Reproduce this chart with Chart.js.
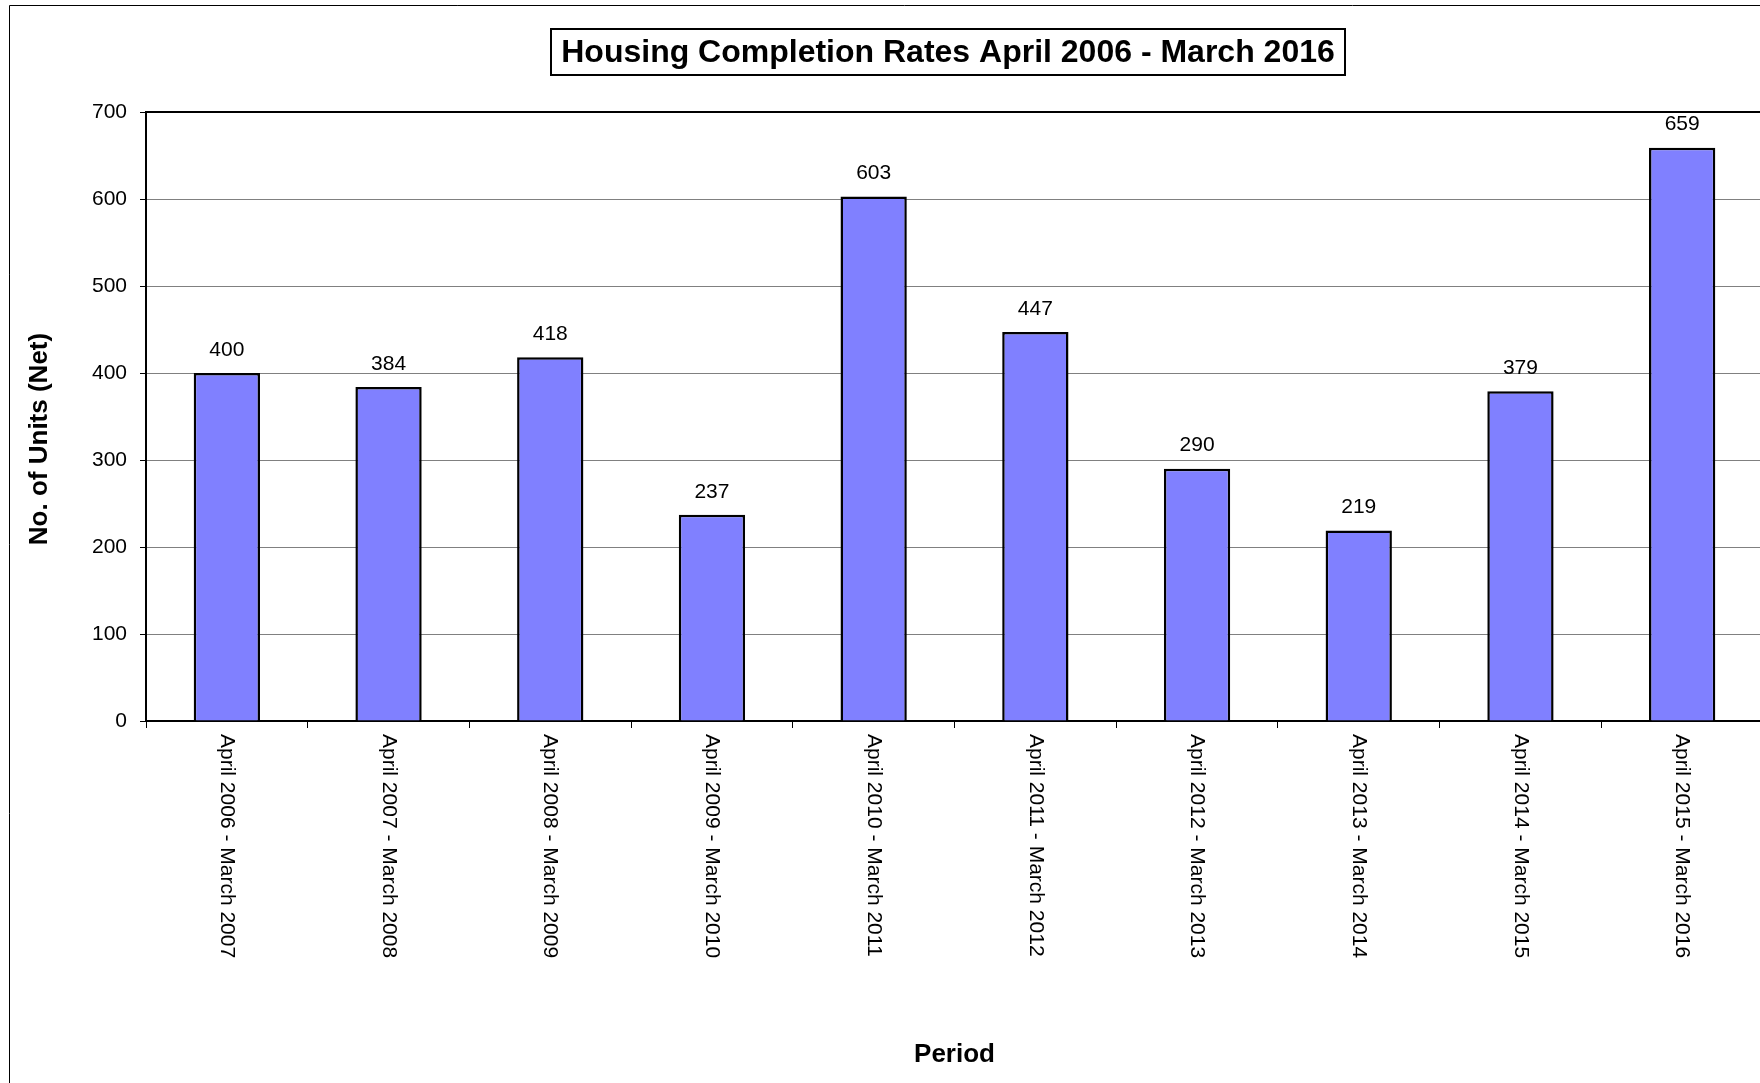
<!DOCTYPE html>
<html>
<head>
<meta charset="utf-8">
<title>Housing Completion Rates</title>
<script src="https://cdn.jsdelivr.net/npm/chart.js@4.4.1/dist/chart.umd.min.js"></script>
<style>
  html, body { margin: 0; padding: 0; background: #fff; overflow: hidden; }
  #wrap { position: absolute; left: 0; top: 0; width: 1800px; height: 1083px; }
</style>
</head>
<body>
<div id="wrap"><canvas id="chHousing"></canvas></div>
<script>
// data
var periods = [
  'April 2006 - March 2007', 'April 2007 - March 2008', 'April 2008 - March 2009',
  'April 2009 - March 2010', 'April 2010 - March 2011', 'April 2011 - March 2012',
  'April 2012 - March 2013', 'April 2013 - March 2014', 'April 2014 - March 2015',
  'April 2015 - March 2016'
];
var units = [400, 384, 418, 237, 603, 447, 290, 219, 379, 659];
var yMin = 0, yMax = 700, yStep = 100;

var chartTitle = 'Housing Completion Rates April 2006 - March 2016';
var yTitle = 'No. of Units (Net)';
var xTitle = 'Period';

Chart.defaults.font.family = 'Arial, "Liberation Sans", sans-serif';
Chart.defaults.color = '#000';

// excel-ish extras: frame, boxed title, value labels, downward x labels
var excelBits = {
  id: 'excelBits',
  beforeDraw: function(chart) {
    var ctx = chart.ctx;
    ctx.save();
    ctx.fillStyle = '#fff';
    ctx.fillRect(0, 0, chart.width, chart.height);
    ctx.strokeStyle = '#000';
    ctx.lineWidth = 1;
    ctx.beginPath();
    ctx.moveTo(9.5, chart.height);
    ctx.lineTo(9.5, 5.5);
    ctx.lineTo(chart.width, 5.5);
    ctx.stroke();
    ctx.restore();
  },
  afterDraw: function(chart) {
    var ctx = chart.ctx;
    var area = chart.chartArea;
    var xs = chart.scales.x;
    ctx.save();

    // plot area top edge
    ctx.strokeStyle = '#000';
    ctx.lineWidth = 2;
    ctx.beginPath();
    ctx.moveTo(area.left, area.top);
    ctx.lineTo(area.right, area.top);
    ctx.stroke();

    // value labels
    ctx.fillStyle = '#000';
    ctx.font = '21px Arial, "Liberation Sans", sans-serif';
    ctx.textAlign = 'center';
    ctx.textBaseline = 'middle';
    chart.getDatasetMeta(0).data.forEach(function(bar, i) {
      ctx.fillText(String(units[i]), bar.x, bar.y - 23);
    });

    // category labels, reading top to bottom
    ctx.font = '21px Arial, "Liberation Sans", sans-serif';
    ctx.textAlign = 'left';
    periods.forEach(function(p, i) {
      ctx.save();
      ctx.translate(xs.getPixelForTick(i), area.bottom + 13);
      ctx.rotate(Math.PI / 2);
      ctx.fillText(p, 0, 0);
      ctx.restore();
    });

    // y axis title
    ctx.font = 'bold 26px Arial, "Liberation Sans", sans-serif';
    ctx.textAlign = 'center';
    ctx.save();
    ctx.translate(40, 439);
    ctx.rotate(-Math.PI / 2);
    ctx.fillText(yTitle, 0, 0);
    ctx.restore();

    // boxed chart title
    ctx.font = 'bold 32px Arial, "Liberation Sans", sans-serif';
    var tw = ctx.measureText(chartTitle).width;
    var cx = 948, cy = 53;
    ctx.fillText(chartTitle, cx, cy);
    ctx.lineWidth = 2;
    ctx.strokeRect(Math.round(cx - tw / 2 - 10), 29, Math.round(tw + 20), 46);

    ctx.restore();
  }
};

var chHousing = document.getElementById('chHousing');
if (chHousing) {
  new Chart(chHousing, {
    type: 'bar',
    data: {
      labels: periods,
      datasets: [
        {
          data: units,
          backgroundColor: '#8080ff',
          borderColor: '#000',
          borderWidth: 2.5,
          barPercentage: 0.41,
          categoryPercentage: 1
        }
      ]
    },
    options: {
      responsive: true,
      maintainAspectRatio: false,
      animation: false,
      layout: { padding: { top: 112, right: 37, left: 0, bottom: 0 } },
      plugins: {
        legend: { display: false },
        tooltip: { enabled: false }
      },
      scales: {
        x: {
          offset: true,
          grid: { display: true, drawOnChartArea: false, offset: true, tickLength: 7, tickColor: '#000', tickWidth: 1 },
          border: { color: '#000', width: 2 },
          ticks: { display: false },
          title: {
            display: true,
            text: xTitle,
            font: { size: 26, weight: 'bold' },
            padding: { top: 0, bottom: 13 }
          },
          afterFit: function(s) { s.height = 362; }
        },
        y: {
          min: yMin,
          max: yMax,
          ticks: { stepSize: yStep, font: { size: 21 }, color: '#000', padding: 13 },
          grid: { color: '#808080', lineWidth: 1, tickLength: 6, tickColor: '#000' },
          border: { color: '#000', width: 2 },
          afterFit: function(s) { s.width = 146; }
        }
      }
    },
    plugins: [excelBits]
  });
}
</script>
</body>
</html>
